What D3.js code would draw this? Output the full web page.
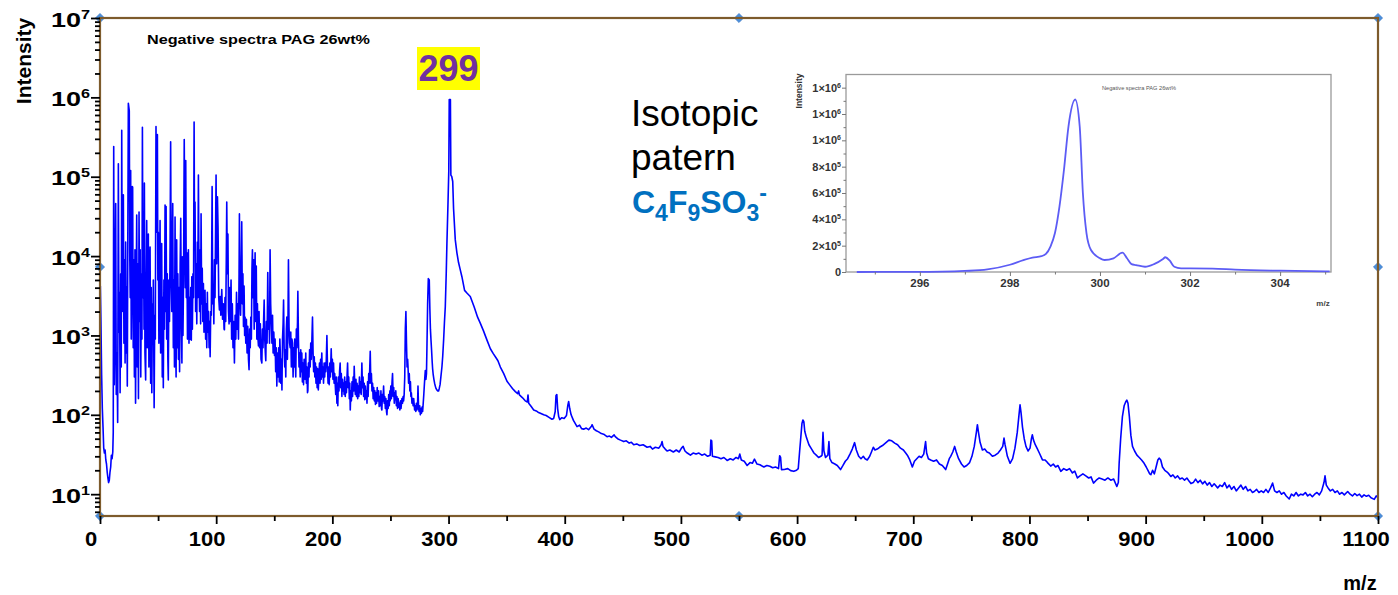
<!DOCTYPE html>
<html>
<head>
<meta charset="utf-8">
<script src="https://cdn.jsdelivr.net/npm/d3@7"></script>
<style>
    html, body { margin: 0; padding: 0; background: #fff; }
    svg { display: block; }
    text { font-family: "Liberation Sans", Arial, sans-serif; }
</style>
</head>
<body>
<svg id="chart" width="1398" height="595"></svg>
<script>
// ---- data: [m/z, intensity] ----
const lowMassPeaks = [
    [0.3, 4200], [0.8, 1500], [1.4, 320], [2.0, 120], [2.6, 70], [3.2, 38], [3.8, 33], [4.4, 36], [5.0, 27], [5.6, 24],
    [6.2, 19], [6.8, 16], [7.4, 14], [8.0, 15], [8.6, 19], [9.2, 22], [9.8, 31], [10.4, 28], [11.0, 34], [11.4, 60],
    [11.8, 240000], [12.3, 240], [12.8, 900], [13.5, 46000], [14.0, 180], [14.6, 600], [15.2, 80], [15.8, 146000], [16.3, 1100], [16.8, 3500],
    [17.3, 190], [17.8, 6000], [18.3, 400], [18.7, 385000], [19.2, 2000], [19.7, 6000], [20.1, 59000], [20.6, 800], [21.1, 9000], [21.6, 450],
    [22.1, 15000], [22.6, 600], [23.0, 4000], [23.5, 230], [24.0, 30000], [24.4, 840000], [25.2, 680000], [25.6, 11000], [26.0, 3000], [26.4, 120000],
    [26.9, 900], [27.4, 5000], [27.7, 75000], [28.1, 74000], [28.6, 700], [29.1, 9000], [29.6, 300], [30.1, 12000], [30.6, 140], [31.1, 2500],
    [31.6, 33000], [32.1, 400], [32.6, 8000], [33.1, 160], [33.6, 36000], [34.1, 1500], [34.6, 12000], [35.1, 300], [35.6, 6000], [36.1, 900],
    [36.5, 420000], [37.0, 3000], [37.5, 15000], [37.9, 1200], [38.2, 83000], [38.7, 600], [39.3, 275], [39.8, 5000], [40.2, 28000], [40.7, 700],
    [41.2, 8000], [41.6, 19000], [42.1, 400], [42.6, 6000], [43.1, 13000], [43.6, 250], [44.1, 4000], [44.6, 190], [45.1, 2500], [45.5, 800],
    [45.9, 5000], [46.6, 123], [47.1, 1800], [47.6, 900], [48.2, 430000], [48.7, 20000], [49.4, 340000], [49.8, 5000], [50.2, 20000], [50.7, 800],
    [51.2, 4000], [51.7, 28000], [52.2, 600], [52.7, 7000], [53.1, 14400], [53.6, 300], [54.0, 3000], [54.5, 220], [55.0, 5000], [55.5, 1200],
    [56.0, 44000], [56.5, 2000], [56.9, 42000], [57.4, 900], [57.9, 6000], [58.4, 500], [58.8, 275], [59.3, 5000], [59.8, 1500], [60.3, 12000],
    [60.8, 275000], [61.3, 5000], [61.8, 2000], [62.2, 9000], [62.6, 46000], [63.1, 700], [63.6, 5000], [64.1, 400], [64.6, 31000], [65.1, 900],
    [65.5, 300], [66.0, 16000], [66.5, 700], [67.0, 6000], [67.5, 500], [68.0, 4000], [68.5, 350], [69.0, 8000], [69.5, 30000], [70.0, 1500],
    [70.5, 450], [70.9, 9800], [71.4, 1000], [71.9, 5000], [72.5, 295000], [73.0, 20000], [73.4, 4000], [73.8, 160000], [74.3, 3000], [74.8, 11000],
    [75.3, 900], [75.8, 7000], [76.1, 12000], [76.6, 800], [77.1, 3000], [77.6, 900], [78.1, 4000], [78.6, 870], [79.0, 5500], [79.5, 1200],
    [80.0, 6000], [80.5, 3000], [81.0, 490000], [81.4, 12000], [81.8, 48000], [82.3, 2000], [82.8, 8000], [83.3, 1400], [83.8, 15000], [84.2, 3000],
    [84.7, 105000], [85.2, 6000], [85.7, 2000], [86.2, 12000], [86.6, 1400], [87.0, 34000], [87.5, 2500], [88.0, 7000], [88.5, 1500], [89.0, 4500],
    [89.5, 1100], [90.0, 3000], [90.4, 3700], [90.9, 900], [91.4, 2500], [91.9, 700], [92.4, 3500], [92.9, 1100], [93.4, 2000], [93.9, 700],
    [94.3, 1500], [94.8, 540], [95.3, 2000], [95.8, 1800], [96.5, 75000], [97.0, 2500], [97.5, 4000], [98.0, 1400], [98.5, 9000], [99.0, 3000],
    [99.9, 105000], [100.4, 8000]
];

const midMassPeaks = [
    [101.1, 56000], [101.6, 23000], [102.2, 3000], [102.8, 2100], [103.4, 3100], [104.0, 1800], [104.8, 3800], [105.5, 1600], [106.2, 2500], [106.8, 1200],
    [107.1, 1180], [107.6, 3000], [108.2, 1500], [108.7, 9000], [109.1, 48000], [109.6, 6000], [110.1, 19000], [110.6, 2000], [111.1, 1400], [111.6, 4000],
    [112.1, 1500], [112.8, 5000], [113.3, 900], [113.9, 2500], [114.5, 700], [115.1, 1500], [115.7, 450], [116.3, 1800], [116.9, 900], [117.5, 3500],
    [118.1, 1200], [118.6, 2500], [119.2, 900], [119.7, 6000], [120.0, 34000], [120.5, 3000], [121.0, 1800], [121.5, 5000], [122.0, 27000], [122.5, 2500],
    [123.0, 6000], [123.5, 1300], [124.0, 4200], [124.5, 1000], [124.9, 1700], [125.5, 800], [126.0, 1600], [126.6, 600], [127.2, 1300], [127.8, 500],
    [128.3, 370], [128.8, 1200], [129.3, 700], [129.8, 1700], [130.3, 900], [130.8, 7000], [131.2, 12000], [131.7, 3000], [132.2, 9000], [132.7, 1200],
    [133.2, 5000], [133.5, 11000], [134.0, 1500], [134.5, 7500], [135.0, 900], [135.5, 2500], [136.0, 900], [136.4, 740], [136.9, 2000], [137.4, 700],
    [138.0, 1400], [138.6, 500], [139.3, 450], [139.8, 1200], [140.3, 700], [140.8, 1500], [141.3, 2800], [141.8, 900], [142.3, 600], [142.7, 480],
    [143.2, 1500], [143.8, 800], [144.4, 6200], [144.9, 1200], [145.4, 2000], [145.9, 800], [146.4, 12000], [146.9, 2500], [147.4, 1400], [148.0, 800],
    [148.5, 1800], [149.0, 600], [149.6, 1100], [150.2, 560], [150.7, 900], [151.2, 350], [151.7, 700], [152.2, 230], [152.7, 600], [153.3, 300],
    [153.8, 700], [154.3, 260], [154.8, 900], [155.1, 660], [155.6, 250], [156.1, 500], [156.6, 205], [157.1, 900], [157.6, 1400], [158.0, 2800],
    [158.5, 700], [159.0, 400], [159.4, 660], [159.9, 300], [160.4, 1200], [160.8, 1700], [161.3, 500], [161.8, 1500], [162.2, 9000], [162.7, 1300],
    [163.2, 800], [163.7, 700], [164.2, 1100], [164.7, 400], [165.2, 900], [165.7, 800], [166.2, 300], [166.7, 700], [167.2, 400], [167.6, 900],
    [168.0, 540], [168.5, 300], [169.0, 1200], [169.5, 700], [170.0, 1500], [170.3, 3600], [170.8, 900], [171.3, 400], [171.8, 600], [172.3, 300],
    [172.8, 660], [173.3, 350], [173.7, 600], [174.2, 260], [174.7, 450], [175.2, 240], [175.7, 500], [176.2, 300], [176.6, 280], [177.1, 600],
    [177.6, 250], [178.1, 400], [178.6, 190], [178.9, 200], [179.4, 450], [179.9, 300], [180.4, 660], [180.9, 400], [181.4, 800], [181.9, 500],
    [182.4, 900], [182.9, 1700], [183.4, 600], [183.9, 350], [184.4, 540], [184.9, 300], [185.4, 450], [185.9, 250], [186.4, 400], [186.9, 220],
    [187.4, 380], [187.9, 205], [188.4, 300], [188.9, 450], [189.4, 250], [189.9, 500], [190.4, 280], [190.9, 600], [191.4, 300], [191.9, 400],
    [192.4, 250], [192.9, 450], [193.4, 300], [193.8, 450], [194.3, 350], [194.8, 500], [195.3, 1000], [195.8, 400], [196.3, 250], [196.8, 400],
    [197.3, 240], [197.8, 450], [198.3, 300], [199.0, 680], [199.5, 350], [200.0, 500], [200.5, 280], [201.0, 450], [201.5, 250], [202.0, 330],
    [202.4, 250], [202.9, 180], [203.4, 300], [203.9, 140], [204.4, 250], [204.7, 130], [205.2, 300], [205.7, 200], [206.2, 350], [206.7, 450],
    [207.2, 220], [207.7, 330], [208.2, 170], [208.7, 280], [209.2, 200], [209.6, 250], [210.1, 180], [210.6, 300], [211.1, 170], [211.6, 260],
    [212.1, 190], [212.6, 300], [213.1, 450], [213.6, 220], [214.1, 300], [214.6, 160], [215.0, 250], [215.4, 115], [215.9, 200], [216.4, 150],
    [216.9, 260], [217.4, 170], [217.9, 300], [218.4, 200], [218.8, 410], [219.3, 230], [219.8, 180], [220.3, 280], [220.8, 170], [221.3, 250],
    [221.8, 160], [222.3, 230], [222.8, 170], [223.3, 300], [223.8, 190], [224.3, 260], [224.8, 180], [225.4, 450], [225.9, 220], [226.4, 300],
    [226.9, 170], [227.4, 250], [227.9, 155], [228.4, 230], [228.9, 160], [229.4, 200], [229.8, 140], [230.3, 260], [230.8, 170], [231.3, 330],
    [231.8, 250], [232.6, 630], [233.1, 250], [233.6, 330], [234.1, 200], [234.6, 250], [235.1, 160], [235.6, 220], [236.1, 150], [236.6, 200],
    [237.1, 135], [237.6, 190], [238.1, 140], [238.6, 220], [239.1, 150], [239.8, 200], [240.3, 127], [240.8, 170], [241.3, 130], [241.8, 200],
    [242.3, 120], [242.6, 115], [243.1, 180], [243.6, 150], [244.1, 230], [244.6, 140], [245.1, 170], [245.6, 120], [246.1, 160], [246.6, 110],
    [247.0, 100], [247.5, 150], [248.0, 120], [248.5, 180], [249.0, 130], [249.5, 200], [249.8, 150], [250.3, 230], [250.8, 160], [251.3, 250],
    [251.8, 330], [252.3, 170], [252.8, 220], [253.3, 140], [253.8, 190], [254.1, 155], [254.6, 200], [255.1, 130], [255.6, 170], [256.1, 120],
    [256.6, 160], [257.1, 125], [257.6, 140], [258.1, 115], [258.6, 150], [259.1, 120], [259.9, 160], [260.4, 140], [260.9, 170], [261.3, 150],
    [261.8, 180], [262.3, 300], [262.8, 1200], [263.3, 2000], [263.8, 800], [264.3, 400], [264.8, 500], [265.1, 410], [265.6, 250], [266.2, 330],
    [266.7, 200], [267.2, 260], [267.6, 170], [268.0, 190], [268.5, 140], [269.0, 160], [269.5, 130], [270.0, 160], [270.8, 115], [271.3, 130],
    [271.8, 110], [272.3, 140], [272.8, 115], [273.3, 130], [273.7, 230], [274.2, 120], [274.7, 110], [275.2, 130], [275.7, 100], [276.2, 120],
    [276.7, 105], [277.2, 125], [277.7, 110], [278.2, 140], [278.7, 180], [279.2, 240], [279.6, 300], [280.0, 360], [280.5, 280], [281.0, 330],
    [281.4, 700], [282.0, 2500], [282.6, 5200], [283.4, 5000], [283.9, 2200], [284.4, 1200], [284.9, 870], [285.4, 650], [285.9, 470], [286.3, 380],
    [286.8, 320], [287.4, 280], [288.0, 250], [288.6, 230], [289.2, 215], [290.0, 205], [290.7, 200], [291.4, 200], [292.0, 215], [292.7, 240],
    [293.4, 300], [294.3, 400], [295.0, 550], [295.8, 900], [296.5, 1500], [297.2, 2300]
];

const basePeak = [
    [298.0, 6000], [298.6, 14500], [299.5, 45000], [300.2, 117000], [300.6, 940000], [301.6, 940000], [302.0, 105000], [302.8, 100000], [303.6, 87000], [304.3, 40000],
    [305.8, 16000], [307.2, 11000], [308.6, 8300], [310.0, 6800], [311.5, 5500], [313.8, 3700], [316.0, 3400], [318.7, 3100], [322.0, 2300], [325.0, 1700],
    [327.3, 1430], [330.0, 1150], [333.0, 880], [336.0, 680], [338.5, 590], [341.0, 520], [342.5, 480]
];

const highMassTail = [
    [344.6, 400], [347.5, 330], [350.3, 265], [352.5, 240], [355.0, 215], [357.5, 196], [359.5, 185], [360.3, 200], [361.0, 178], [363.5, 165],
    [366.0, 150], [367.8, 145], [368.4, 178], [369.0, 140], [371.0, 128], [373.3, 115], [375.5, 112], [377.0, 108], [379.5, 104], [381.9, 100],
    [384.0, 98], [386.5, 93], [389.0, 88], [390.5, 90], [391.8, 110], [392.5, 175], [393.2, 180], [393.9, 120], [394.8, 95], [395.7, 87],
    [397.5, 92], [399.5, 90], [401.5, 98], [402.6, 130], [403.4, 147], [404.3, 120], [405.5, 100], [407.5, 85], [410.6, 71], [412.8, 74],
    [414.5, 67], [416.3, 66], [418.5, 68], [420.5, 65], [423.0, 72], [423.6, 75], [425.2, 66], [427.2, 63], [429.2, 61], [431.5, 58],
    [433.5, 57], [436.4, 53], [438.5, 54], [440.2, 52], [442.5, 56], [443.5, 53], [445.5, 50], [448.0, 48], [450.8, 46], [453.0, 47],
    [455.5, 44], [457.4, 45], [459.4, 42], [462.0, 43], [464.5, 41], [467.5, 42], [470.9, 39], [473.5, 40], [475.5, 37], [478.0, 39],
    [481.0, 38], [483.0, 42], [483.8, 46], [484.6, 40], [486.5, 37], [488.1, 35], [490.5, 36], [493.5, 34], [496.0, 36], [498.5, 34],
    [500.5, 38], [501.9, 40], [503.5, 35], [505.5, 33], [508.2, 31], [510.5, 33], [513.0, 32], [515.5, 33], [518.0, 31], [520.5, 32],
    [523.0, 30], [525.2, 31], [525.8, 48], [526.5, 47], [527.1, 30], [529.5, 29.5], [532.0, 29], [534.5, 28], [537.0, 29], [539.8, 26.6],
    [542.5, 28], [545.0, 27], [547.5, 29], [549.5, 28], [550.7, 32], [552.0, 27], [554.5, 26], [557.0, 23], [559.5, 25], [561.5, 24.5],
    [563.3, 27.6], [565.5, 24], [568.0, 23.5], [571.4, 22], [574.0, 23], [576.5, 22.5], [579.0, 21.5], [581.5, 22], [584.0, 21], [585.0, 30.5],
    [585.8, 29], [586.6, 20.4], [589.0, 20.5], [592.0, 21], [594.5, 19.8], [597.2, 19.4], [599.5, 20], [601.0, 21], [602.2, 35], [603.0, 48],
    [604.2, 78], [605.0, 86], [605.8, 82], [606.6, 62], [608.0, 52], [610.2, 42], [612.5, 37], [614.5, 33], [616.5, 31], [618.5, 29],
    [620.5, 30], [621.5, 31], [622.3, 60], [623.1, 35], [624.5, 29], [626.5, 31], [627.4, 46], [628.2, 28], [630.0, 25], [632.5, 24],
    [634.6, 23], [637.4, 20.4], [639.5, 23], [641.5, 26], [643.5, 28], [645.5, 32], [647.5, 37], [649.5, 44.6], [651.0, 36], [653.0, 30],
    [655.0, 28], [657.0, 30], [658.5, 28], [660.4, 27], [662.5, 30], [664.0, 34], [665.6, 39], [667.0, 36], [669.0, 37], [671.0, 39],
    [673.5, 41], [676.0, 44], [679.0, 48], [681.5, 47], [684.0, 44], [686.5, 42], [689.0, 38], [691.5, 36], [693.5, 33], [694.9, 31],
    [697.0, 27], [699.2, 22], [701.0, 26], [703.0, 28], [705.0, 30], [707.0, 29], [709.0, 32], [710.6, 46], [711.5, 33], [713.0, 28],
    [715.0, 27], [717.5, 26], [720.0, 27], [722.5, 24], [725.0, 23], [727.9, 20.4], [729.5, 24], [731.0, 28], [732.2, 30], [734.0, 34],
    [735.6, 40], [737.0, 34], [739.0, 28], [741.5, 24], [743.7, 22], [746.0, 23], [748.5, 25], [750.5, 30], [752.5, 40], [754.3, 60],
    [755.2, 75], [756.0, 62], [757.5, 45], [759.5, 36], [761.5, 37], [763.5, 34], [765.5, 33], [768.1, 30], [770.5, 31], [773.0, 33],
    [775.0, 36], [777.0, 40], [778.1, 51], [779.0, 42], [781.0, 30], [783.3, 24.5], [785.5, 28], [787.5, 38], [789.5, 60], [791.0, 100],
    [791.9, 134], [792.8, 105], [794.0, 70], [795.5, 50], [797.0, 40], [798.8, 35], [800.5, 38], [801.7, 50], [802.5, 56], [803.5, 48],
    [805.0, 42], [806.5, 38], [808.5, 33], [811.2, 27], [813.5, 27], [815.5, 25], [818.3, 22.6], [820.5, 24], [822.5, 22], [824.5, 23],
    [827.0, 19.4], [829.5, 21], [832.0, 20], [834.5, 21], [837.0, 18.5], [839.0, 19.5], [841.3, 16], [843.5, 17], [846.0, 18], [848.5, 17],
    [851.0, 16], [853.0, 16.5], [855.1, 13.8], [857.5, 15], [860.0, 16], [862.5, 15.5], [865.0, 15], [867.5, 16], [870.0, 15], [872.5, 15.5],
    [875.2, 12.5], [876.5, 14], [877.2, 24.5], [878.5, 50], [880.0, 95], [881.5, 130], [882.8, 145], [883.8, 153], [884.8, 140], [886.0, 95],
    [887.3, 55], [888.7, 40], [890.5, 35], [892.5, 31], [894.5, 29], [896.5, 27], [898.7, 24.5], [900.5, 22], [902.0, 20], [903.5, 18],
    [904.5, 17.6], [906.0, 20], [907.5, 18], [909.0, 22], [910.5, 27], [911.6, 28.5], [913.0, 27], [914.5, 22], [916.5, 20], [918.5, 19],
    [920.0, 18], [921.7, 16.7], [923.5, 17.5], [925.5, 16], [927.5, 17], [929.5, 15.5], [931.5, 16], [933.5, 15], [935.5, 16], [937.5, 14.5],
    [939.0, 13.6], [941.0, 14], [943.0, 15.5], [945.0, 14], [947.0, 15], [949.0, 13.5], [951.0, 14.5], [953.0, 13], [955.0, 14], [957.0, 12.5],
    [959.0, 13.5], [962.0, 12], [964.0, 13], [966.0, 12.5], [968.0, 14], [970.0, 12], [972.0, 13], [974.0, 11.5], [976.0, 12.5], [978.0, 11],
    [980.0, 12], [982.0, 13], [984.0, 11.5], [986.0, 12.5], [988.0, 11], [990.0, 11.5], [992.0, 10.5], [993.5, 10.8], [995.5, 11.5], [997.5, 10.5],
    [999.5, 11], [1001.5, 10.5], [1003.5, 11.5], [1005.5, 10.5], [1007.5, 12], [1009.3, 13.8], [1011.0, 11], [1013.0, 10.5], [1015.0, 11], [1017.0, 10],
    [1019.0, 10.5], [1021.0, 9.5], [1023.6, 8.7], [1025.5, 10], [1027.5, 9.5], [1029.5, 10.5], [1031.5, 9.5], [1033.5, 10], [1035.5, 9.8], [1037.5, 10.5],
    [1039.5, 9.5], [1041.5, 10], [1043.5, 9.3], [1045.5, 10], [1047.5, 10.5], [1049.5, 9.8], [1051.5, 11], [1053.5, 14], [1054.4, 17], [1055.5, 13],
    [1057.0, 12], [1059.0, 11], [1061.0, 11.5], [1063.0, 10.5], [1065.0, 11], [1067.0, 10], [1069.0, 10.5], [1071.0, 9.8], [1073.9, 10.8], [1076.0, 10],
    [1078.0, 9.5], [1080.0, 10.2], [1082.0, 9.6], [1084.0, 10], [1086.0, 9.2], [1088.0, 9.8], [1090.0, 9.4], [1092.0, 9.7], [1094.0, 9], [1096.8, 8.6],
    [1098.5, 9.5], [1100.0, 9]
];

// isotope pattern of the 299 ion (inset)
const isotopePattern = [
    [294.6, 0], [295.5, 500], [296.0, 1000], [296.5, 2500], [297.0, 8000], [297.5, 20000], [298.0, 55000], [298.3, 90000], [298.5, 109000], [298.7, 120000],
    [298.8, 137000], [298.9, 193000], [299.0, 296000], [299.1, 497000], [299.2, 776000], [299.3, 1105000], [299.45, 1310000], [299.55, 1105000], [299.62, 600000], [299.7, 296000],
    [299.8, 167000], [300.0, 104000], [300.1, 91000], [300.3, 104000], [300.5, 147000], [300.6, 104000], [300.7, 60000], [300.8, 53000], [301.0, 40000], [301.2, 60000],
    [301.4, 99000], [301.45, 112000], [301.55, 86000], [301.65, 40000], [301.8, 28000], [302.5, 26000], [303.0, 18000], [304.0, 10000], [305.1, 5000]
];

// ---- axis ticks and labels ----
const xTicks = [0, 100, 200, 300, 400, 500, 600, 700, 800, 900, 1000, 1100];
const yExponents = [1, 2, 3, 4, 5, 6, 7];
const insetXTicks = [296, 298, 300, 302, 304];
const insetYTicks = [0, 2e5, 4e5, 6e5, 8e5, 1e6, 1.2e6, 1.4e6];
const insetYMantissa = ['0', '2', '4', '6', '8', '1', '1', '1'];
const insetYExponent = [null, 5, 5, 5, 5, 6, 6, 6];

const title = 'Negative spectra PAG 26wt%';

const spectrum = [...lowMassPeaks, ...midMassPeaks, ...basePeak, ...highMassTail];

const svg = d3.select('#chart');

//----------------------------------------------------------------------------
// main plot
const x = d3.scaleLinear().domain([0, 1100]).range([100, 1378]);
const y = d3.scaleLog().domain([10 ** 0.725, 1e7]).range([516, 18]);

const [plotLeft, plotRight] = x.range();
const [plotBottom, plotTop] = y.range();

svg.append('defs').append('clipPath').attr('id', 'plot-clip')
    .append('rect')
    .attr('x', plotLeft).attr('y', plotTop)
    .attr('width', plotRight - plotLeft).attr('height', plotBottom - plotTop);

const line = d3.line()
    .x(d => x(d[0]))
    .y(d => y(d[1]));

svg.append('path')
    .attr('clip-path', 'url(#plot-clip)')
    .attr('d', line(spectrum))
    .attr('fill', 'none')
    .attr('stroke', '#0000ff')
    .attr('stroke-width', 1.6)
    .attr('stroke-linejoin', 'round');

// selection handles of the graph object
const midX = (plotLeft + plotRight) / 2, midY = (plotTop + plotBottom) / 2;
const handles = [
    [plotLeft, plotTop], [midX, plotTop], [plotRight, plotTop], [plotLeft, midY],
    [plotRight, midY], [plotLeft, plotBottom], [midX, plotBottom], [plotRight, plotBottom]
];

svg.append('g').selectAll('path')
    .data(handles)
    .join('path')
    .attr('d', d3.symbol(d3.symbolSquare, 42))
    .attr('transform', d => `translate(${d[0]},${d[1]}) rotate(45)`)
    .attr('fill', '#4a8fdc')
    .attr('stroke', '#2f6fbf')
    .attr('stroke-width', 0.6);

svg.append('rect')
    .attr('x', plotLeft).attr('y', plotTop)
    .attr('width', plotRight - plotLeft).attr('height', plotBottom - plotTop)
    .attr('fill', 'none')
    .attr('stroke', '#7d5b2c')
    .attr('stroke-width', 2.2);

const styleTicks = g => {
    g.select('.domain').remove();
    g.selectAll('.tick line').attr('stroke', '#000').attr('stroke-width', 1.8);
};

// y axis (log)
const yMinor = [];
for (let e = 0; e < 7; e++) {
    for (let m = 2; m <= 9; m++) {
        const v = m * 10 ** e;
        if (v >= y.domain()[0]) yMinor.push(v);
    }
}

svg.append('g')
    .attr('transform', `translate(${plotLeft},0)`)
    .call(d3.axisLeft(y).tickValues(yMinor).tickSize(5).tickFormat(''))
    .call(styleTicks);

svg.append('g')
    .attr('transform', `translate(${plotLeft},0)`)
    .call(d3.axisLeft(y).tickValues(yExponents.map(e => 10 ** e)).tickSize(9).tickFormat(''))
    .call(styleTicks);

const yLabels = svg.append('g')
    .selectAll('text')
    .data(yExponents)
    .join('text')
    .attr('transform', e => `translate(${plotLeft - 10},${y(10 ** e) + 8.5}) scale(1.35,1)`)
    .attr('text-anchor', 'end')
    .attr('font-size', 20)
    .attr('font-weight', 'bold');
yLabels.append('tspan').text('10');
yLabels.append('tspan').attr('font-size', 12).attr('dy', -8).text(e => e);

// x axis
const xMinor = d3.range(50, 1100, 100);

svg.append('g')
    .attr('transform', `translate(0,${plotBottom})`)
    .call(d3.axisBottom(x).tickValues(xMinor).tickSize(5).tickFormat(''))
    .call(styleTicks);

svg.append('g')
    .attr('transform', `translate(0,${plotBottom})`)
    .call(d3.axisBottom(x).tickValues(xTicks).tickSize(8).tickFormat(''))
    .call(styleTicks);

svg.append('g')
    .selectAll('text')
    .data(xTicks)
    .join('text')
    .attr('transform', d => `translate(${x(d) - (d >= 1000 ? 12 : 9)},546) scale(1.1,1)`)
    .attr('text-anchor', 'middle')
    .attr('font-size', 20)
    .attr('font-weight', 'bold')
    .text(d => d);

// axis titles
svg.append('text')
    .attr('transform', 'translate(31,61) rotate(-90)')
    .attr('text-anchor', 'middle')
    .attr('font-size', 21)
    .attr('font-weight', 'bold')
    .text('Intensity');

svg.append('text')
    .attr('x', 1360).attr('y', 590)
    .attr('text-anchor', 'middle')
    .attr('font-size', 20)
    .attr('font-weight', 'bold')
    .text('m/z');

svg.append('text')
    .attr('x', 147).attr('y', 44)
    .attr('font-family', '"DejaVu Sans", sans-serif')
    .attr('font-size', 12.5)
    .attr('font-weight', 'bold')
    .attr('textLength', 223)
    .attr('lengthAdjust', 'spacingAndGlyphs')
    .text(title);

// peak label
svg.append('rect')
    .attr('x', 417).attr('y', 47)
    .attr('width', 63).attr('height', 43)
    .attr('fill', '#ffff00');

svg.append('text')
    .attr('x', 448.5).attr('y', 81)
    .attr('text-anchor', 'middle')
    .attr('font-size', 36)
    .attr('font-weight', 'bold')
    .attr('fill', '#7030a0')
    .text('299');

// annotation
svg.append('text').attr('x', 631).attr('y', 126).attr('font-size', 37).text('Isotopic');
svg.append('text').attr('x', 631).attr('y', 170).attr('font-size', 37).text('patern');

const formula = svg.append('text')
    .attr('x', 632).attr('y', 213)
    .attr('font-size', 32)
    .attr('font-weight', 'bold')
    .attr('fill', '#0070c0');
formula.append('tspan').text('C');
formula.append('tspan').attr('font-size', 23).attr('dy', 8).text('4');
formula.append('tspan').attr('dy', -8).text('F');
formula.append('tspan').attr('font-size', 23).attr('dy', 8).text('9');
formula.append('tspan').attr('dy', -8).text('SO');
formula.append('tspan').attr('font-size', 23).attr('dy', 8).text('3');
formula.append('tspan').attr('font-size', 23).attr('dy', -20).text('-');

//----------------------------------------------------------------------------
// inset: isotope pattern
const ix = d3.scaleLinear().domain([294.36, 305.13]).range([846, 1331]);
const iy = d3.scaleLinear().domain([0, 1.5e6]).range([272, 74.5]);

const inset = svg.append('g');

inset.append('rect')
    .attr('x', ix.range()[0]).attr('y', iy.range()[1])
    .attr('width', ix.range()[1] - ix.range()[0])
    .attr('height', iy.range()[0] - iy.range()[1])
    .attr('fill', 'none')
    .attr('stroke', '#9a9a9a')
    .attr('stroke-width', 1.3);

inset.append('path')
    .attr('d', d3.line().x(d => ix(d[0])).y(d => iy(d[1])).curve(d3.curveMonotoneX)(isotopePattern))
    .attr('fill', 'none')
    .attr('stroke', '#5c5cf5')
    .attr('stroke-width', 1.8);

const styleInset = g => {
    g.select('.domain').remove();
    g.selectAll('.tick line').attr('stroke', '#777').attr('stroke-width', 1);
};

inset.append('g')
    .attr('transform', `translate(${ix.range()[0]},0)`)
    .call(d3.axisLeft(iy).tickValues(d3.range(1e5, 1.5e6, 2e5)).tickSize(2.5).tickFormat(''))
    .call(styleInset);

inset.append('g')
    .attr('transform', `translate(${ix.range()[0]},0)`)
    .call(d3.axisLeft(iy).tickValues(insetYTicks).tickSize(4).tickFormat(''))
    .call(styleInset);

inset.append('g')
    .attr('transform', `translate(0,${iy.range()[0]})`)
    .call(d3.axisBottom(ix).tickValues(d3.range(295, 306, 2)).tickSize(2.5).tickFormat(''))
    .call(styleInset);

inset.append('g')
    .attr('transform', `translate(0,${iy.range()[0]})`)
    .call(d3.axisBottom(ix).tickValues(insetXTicks).tickSize(4).tickFormat(''))
    .call(styleInset);

inset.append('g')
    .selectAll('text')
    .data(insetXTicks)
    .join('text')
    .attr('x', d => ix(d))
    .attr('y', 287)
    .attr('text-anchor', 'middle')
    .attr('font-size', 11.5)
    .attr('font-weight', 'bold')
    .attr('fill', '#333')
    .text(d => d);

const iyLabels = inset.append('g')
    .selectAll('text')
    .data(insetYTicks)
    .join('text')
    .attr('x', 841)
    .attr('y', d => iy(d) + 4)
    .attr('text-anchor', 'end')
    .attr('font-size', 11)
    .attr('font-weight', 'bold')
    .attr('fill', '#333');
iyLabels.append('tspan').text((d, i) => insetYExponent[i] ? insetYMantissa[i] + '×10' : insetYMantissa[i]);
iyLabels.append('tspan')
    .attr('font-size', 7)
    .attr('dy', -4)
    .text((d, i) => insetYExponent[i] ? insetYExponent[i] : '');

inset.append('text')
    .attr('transform', 'translate(802,91) rotate(-90)')
    .attr('text-anchor', 'middle')
    .attr('font-size', 8.5)
    .attr('font-weight', 'bold')
    .attr('fill', '#333')
    .text('Intensity');

inset.append('text')
    .attr('x', 1323).attr('y', 306)
    .attr('text-anchor', 'middle')
    .attr('font-size', 8)
    .attr('font-weight', 'bold')
    .attr('fill', '#444')
    .text('m/z');

inset.append('text')
    .attr('x', 1102).attr('y', 90)
    .attr('font-size', 6)
    .attr('fill', '#555')
    .attr('textLength', 74)
    .attr('lengthAdjust', 'spacingAndGlyphs')
    .text(title);
</script>
</body>
</html>
